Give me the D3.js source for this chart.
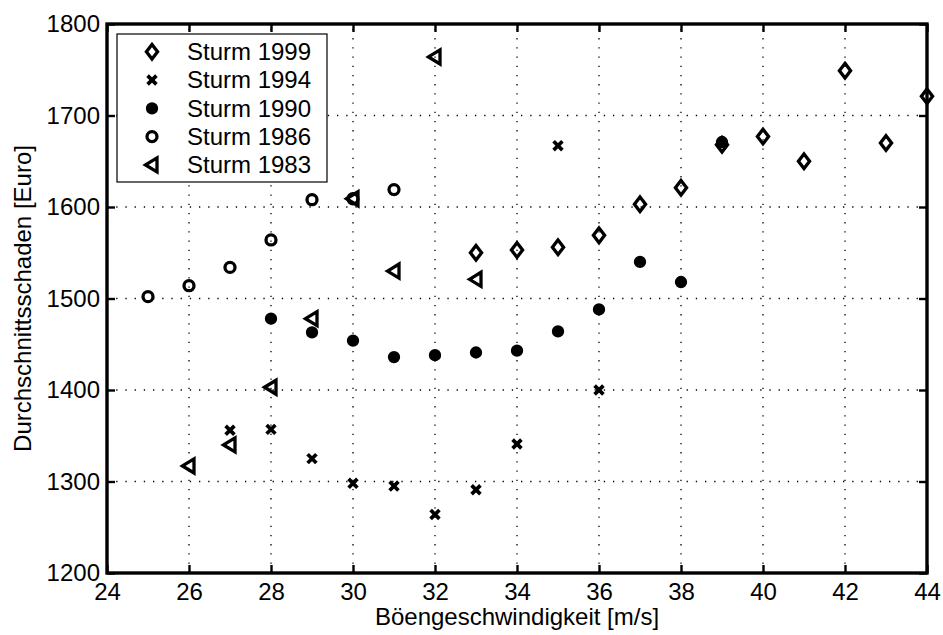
<!DOCTYPE html>
<html>
<head>
<meta charset="utf-8">
<script src="https://cdn.jsdelivr.net/npm/d3@7/dist/d3.min.js"></script>
<style>
  html, body { margin: 0; padding: 0; background: #fff; }
  text { font-family: "Liberation Sans", Arial, Helvetica, sans-serif; fill: #000; }
</style>
</head>
<body>
<svg id="chart" width="943" height="635"></svg>
<script>
// ---- data ----
const xTicks = [24, 26, 28, 30, 32, 34, 36, 38, 40, 42, 44];
const yTicks = [1200, 1300, 1400, 1500, 1600, 1700, 1800];

const seriesNames = ["Sturm 1999", "Sturm 1994", "Sturm 1990", "Sturm 1986", "Sturm 1983"];

const speed1999 = [33, 34, 35, 36, 37, 38, 39, 40, 41, 42, 43, 44];
const dmg1999   = [1550, 1553, 1556, 1569, 1603, 1621, 1668, 1677, 1650, 1749, 1670, 1721];

const speed1994 = [27, 28, 29, 30, 31, 32, 33, 34, 35, 36];
const dmg1994   = [1356, 1357, 1325, 1298, 1295, 1264, 1291, 1341, 1667, 1400];

const speed1990 = [28, 29, 30, 31, 32, 33, 34, 35, 36, 37, 38, 39];
const dmg1990   = [1478, 1463, 1454, 1436, 1438, 1441, 1443, 1464, 1488, 1540, 1518, 1671];

const speed1986 = [25, 26, 27, 28, 29, 30, 31];
const dmg1986   = [1502, 1514, 1534, 1564, 1608, 1609, 1619];

const speed1983 = [26, 27, 28, 29, 30, 31, 32, 33];
const dmg1983   = [1317, 1340, 1403, 1478, 1609, 1530, 1764, 1521];

// ---- layout ----
const svg = d3.select("#chart");
const L = 107, R = 927, T = 24, B = 573;
const x = d3.scaleLinear().domain([24, 44]).range([L, R]);
const y = d3.scaleLinear().domain([1200, 1800]).range([B, T]);

svg.append("rect").attr("width", 943).attr("height", 635).attr("fill", "#fff");

// grid
const grid = svg.append("g").attr("stroke", "#000").attr("stroke-width", 1.3)
  .attr("stroke-dasharray", "1.3 7.9").attr("fill", "none");
grid.selectAll("line.v").data(xTicks.slice(1, -1)).join("line")
  .attr("x1", d => x(d)).attr("x2", d => x(d)).attr("y1", B).attr("y2", T);
grid.selectAll("line.h").data(yTicks.slice(1, -1)).join("line").attr("class", "h")
  .attr("y1", d => y(d)).attr("y2", d => y(d)).attr("x1", L).attr("x2", R);

// axes (inward ticks)
function styleAxis(g) {
  g.select(".domain").remove();
  g.selectAll(".tick line").attr("stroke", "#000").attr("stroke-width", 2.4);
  g.selectAll(".tick text").attr("font-size", 24).attr("fill", "#000");
}
svg.append("g").attr("transform", `translate(0,${B})`)
  .call(d3.axisBottom(x).tickValues(xTicks).tickSizeInner(-8).tickSizeOuter(0).tickPadding(10).tickFormat(d3.format("d")))
  .attr("font-family", null).call(styleAxis);
svg.append("g").attr("transform", `translate(0,${T})`)
  .call(d3.axisTop(x).tickValues(xTicks).tickSizeInner(-8).tickSizeOuter(0).tickFormat(""))
  .call(styleAxis);
svg.append("g").attr("transform", `translate(${L},0)`)
  .call(d3.axisLeft(y).tickValues(yTicks).tickSizeInner(-8).tickSizeOuter(0).tickPadding(7).tickFormat(d3.format("d")))
  .attr("font-family", null).call(styleAxis);
svg.append("g").attr("transform", `translate(${R},0)`)
  .call(d3.axisRight(y).tickValues(yTicks).tickSizeInner(-8).tickSizeOuter(0).tickFormat(""))
  .call(styleAxis);

// frame
svg.append("rect").attr("x", L).attr("y", T).attr("width", R - L).attr("height", B - T)
  .attr("fill", "none").attr("stroke", "#000").attr("stroke-width", 3.4);

// axis labels
svg.append("text").attr("x", (L + R) / 2).attr("y", 625).attr("text-anchor", "middle")
  .attr("font-size", 24).text("Böengeschwindigkeit [m/s]");
svg.append("text").attr("transform", `translate(31,${(T + B) / 2}) rotate(-90)`)
  .attr("text-anchor", "middle").attr("font-size", 24).text("Durchschnittsschaden [Euro]");

// marker shapes
const shapes = {
  diamond: { d: "M0,-7.3L5.6,0L0,7.3L-5.6,0Z", fill: "none", stroke: 3.3 },
  cross:   { d: "M-4.4,-4.4L4.4,4.4M-4.4,4.4L4.4,-4.4", fill: "none", stroke: 3.7 },
  dot:     { d: d3.symbol(d3.symbolCircle, Math.PI * 38)(), fill: "#000", stroke: 0 },
  ring:    { d: d3.symbol(d3.symbolCircle, Math.PI * 25)(), fill: "none", stroke: 3.3 },
  tri:     { d: "M-6.5,0L5,-7L5,7Z", fill: "none", stroke: 3.3 }
};

const series = [
  { name: seriesNames[0], xs: speed1999, ys: dmg1999, shape: "diamond" },
  { name: seriesNames[1], xs: speed1994, ys: dmg1994, shape: "cross" },
  { name: seriesNames[2], xs: speed1990, ys: dmg1990, shape: "dot" },
  { name: seriesNames[3], xs: speed1986, ys: dmg1986, shape: "ring" },
  { name: seriesNames[4], xs: speed1983, ys: dmg1983, shape: "tri" }
];

function drawMarker(sel, shapeKey) {
  const s = shapes[shapeKey];
  sel.attr("d", s.d).attr("fill", s.fill).attr("stroke", "#000")
    .attr("stroke-width", s.stroke).attr("stroke-linejoin", "miter").attr("stroke-miterlimit", 10);
}

series.forEach(s => {
  const pts = s.xs.map((v, i) => ({ x: v, y: s.ys[i] }));
  svg.append("g").selectAll("path").data(pts).join("path")
    .attr("transform", d => `translate(${x(d.x)},${y(d.y)})`)
    .call(drawMarker, s.shape);
});

// legend
const lg = svg.append("g");
lg.append("rect").attr("x", 117).attr("y", 34).attr("width", 210).attr("height", 148)
  .attr("fill", "#fff").attr("stroke", "#000").attr("stroke-width", 1.2);
series.forEach((s, i) => {
  const cy = 51.7 + i * 28.3;
  lg.append("path").attr("transform", `translate(152,${cy})`).call(drawMarker, s.shape);
  lg.append("text").attr("x", 187).attr("y", cy).attr("dy", "0.35em").attr("font-size", 24).text(s.name);
});
</script>
</body>
</html>
